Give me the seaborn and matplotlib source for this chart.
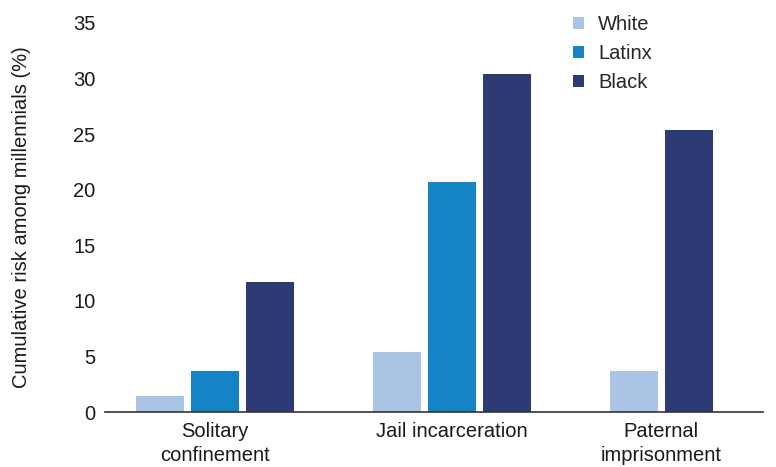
import numpy as np
import pandas as pd
import matplotlib
matplotlib.use('Agg')
import matplotlib.pyplot as plt
import seaborn as sns

# Data
categories = ['Solitary\nconfinement', 'Jail incarceration', 'Paternal\nimprisonment']
races = ['White', 'Latinx', 'Black']
white = [1.4, 5.4, 3.7]
latinx = [3.7, 20.7, np.nan]
black = [11.7, 30.4, 25.4]

colors = {'White': '#AAC4E6', 'Latinx': '#1584C6', 'Black': '#2D3B75'}

# layout: group centres and bar step (in axis units)
group_centres = [0.0, 1.0, 1.882]
step = 0.232
bar_width = 0.2025

rows = []
for i, cat in enumerate(categories):
    vals = {'White': white[i], 'Latinx': latinx[i], 'Black': black[i]}
    present = [r for r in races if not np.isnan(vals[r])]
    offsets = (np.arange(len(present)) - (len(present) - 1) / 2) * step
    for r, off in zip(present, offsets):
        rows.append({'category': cat, 'race': r, 'value': vals[r],
                     'xpos': group_centres[i] + off})
df = pd.DataFrame(rows)

sns.set_style('white')
plt.rcParams['font.family'] = ['Liberation Sans', 'DejaVu Sans']

fig = plt.figure(figsize=(7.76, 4.67), dpi=100)
ax = fig.add_axes([105 / 776, 1 - 412 / 467, 658 / 776, 389 / 467])

native_w = np.min(np.diff(np.unique(df['xpos'])))
sns.barplot(data=df, x='xpos', y='value', hue='race', hue_order=races,
            palette=colors, native_scale=True, dodge=False, saturation=1,
            width=bar_width / native_w, errorbar=None, linewidth=0, ax=ax)

fs = 14.5
ax.set_xlim(-0.464, 2.312)
ax.set_ylim(0, 35)
ax.set_yticks(range(0, 36, 5))
ax.set_xticks(group_centres)
ax.set_xticklabels(categories)
ax.tick_params(axis='both', length=0, labelsize=fs, colors='#1a1a1a')
ax.tick_params(axis='y', pad=7)
ax.tick_params(axis='x', pad=7)
for lbl in ax.get_xticklabels():
    lbl.set_linespacing(1.35)
ax.set_xlabel('')
ax.set_ylabel('Cumulative risk among millennials (%)', fontsize=fs, color='#1a1a1a')
ax.yaxis.set_label_coords(-0.113, 0.5)

for s in ['top', 'right', 'left']:
    ax.spines[s].set_visible(False)
ax.spines['bottom'].set_color('#333333')
ax.spines['bottom'].set_linewidth(1.2)

handles, labels = ax.get_legend_handles_labels()
ax.legend(handles, labels, loc='upper left', bbox_to_anchor=(0.711, 1.02),
          frameon=False, fontsize=fs, handlelength=0.55, handleheight=0.55,
          handletextpad=0.7, labelspacing=0.5, borderpad=0, borderaxespad=0)

fig.savefig('out.png', dpi=100)
